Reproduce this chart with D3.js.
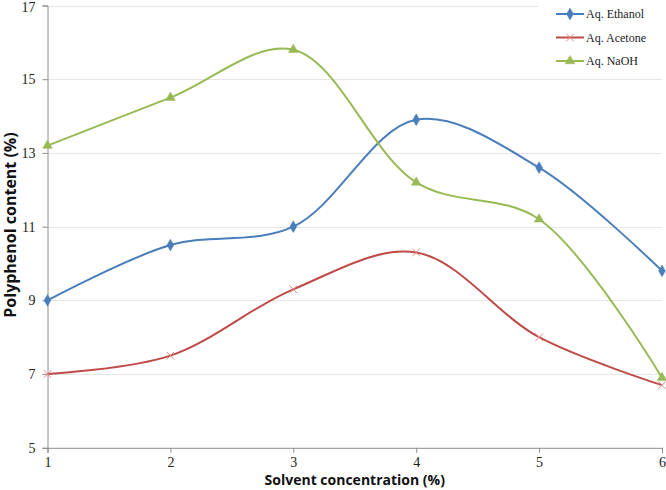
<!DOCTYPE html>
<html><head><meta charset="utf-8">
<script src="https://cdn.jsdelivr.net/npm/d3@7/dist/d3.min.js"></script>
<style>body{margin:0;background:#fff}svg{display:block}</style>
</head><body>
<svg id="c" width="666" height="490"></svg>
<script>
const xCategories = [1, 2, 3, 4, 5, 6];
const ethanol = [9.0, 10.5, 11.0, 13.9, 12.6, 9.8];
const acetone = [7.0, 7.5, 9.3, 10.3, 8.0, 6.7];
const naoh = [13.2, 14.5, 15.8, 12.2, 11.2, 6.9];
const yTicks = [5, 7, 9, 11, 13, 15, 17];
const seriesNames = ["Aq. Ethanol", "Aq. Acetone", "Aq. NaOH"];
const seriesColors = ["#4a7ebb", "#be4b48", "#98b954"];
const seriesMarkers = ["diamond", "cross", "triangle"];
const xTitle = "Solvent concentration (%)";
const yTitle = "Polyphenol content (%)";

const series = [ethanol, acetone, naoh].map((v, i) => ({
  name: seriesNames[i], values: v, color: seriesColors[i], marker: seriesMarkers[i]
}));

const svg = d3.select("#c");
const x = d3.scaleLinear().domain([1, 6]).range([47.5, 662]);
const y = d3.scaleLinear().domain([5, 17]).range([447.8, 5.5]);

// gridlines
svg.append("g").selectAll("line").data(yTicks.filter(t => t !== 5)).join("line")
  .attr("x1", x(1)).attr("x2", x(6))
  .attr("y1", d => Math.round(y(d)) + 0.5).attr("y2", d => Math.round(y(d)) + 0.5)
  .attr("stroke", "#e6e6e6").attr("stroke-width", 1);

// axes
const yAxis = d3.axisLeft(y).tickValues(yTicks).tickSize(5).tickPadding(7).tickFormat(d3.format("d"));
const xAxis = d3.axisBottom(x).tickValues(xCategories).tickSize(5).tickPadding(4).tickFormat(d3.format("d"));
const gy = svg.append("g").attr("transform", `translate(${x(1)},0)`).call(yAxis);
const gx = svg.append("g").attr("transform", `translate(0,${y(5)})`).call(xAxis);
[gx, gy].forEach(g => {
  g.select(".domain").attr("stroke", "#8c8c8c");
  g.selectAll(".tick line").attr("stroke", "#8c8c8c");
  g.selectAll(".tick text").attr("font-family", "Liberation Serif").attr("font-size", 14).attr("fill", "#222");
});
gy.selectAll(".tick text").filter(d => d === 17).attr("dy", "0.45em");

// lines
const line = d3.line().x((d, i) => x(xCategories[i])).y(d => y(d)).curve(d3.curveCatmullRom.alpha(0.5));
const symSize = {diamond: 40, triangle: 40};
function drawMarker(g, type, color) {
  if (type === "cross") {
    const s = 3.8;
    g.append("path").attr("d", `M${-s},${-s}L${s},${s}M${-s},${s}L${s},${-s}`)
      .attr("stroke", "#e08a88").attr("stroke-width", 1).attr("fill", "none");
  } else {
    const sym = type === "diamond" ? d3.symbolDiamond : d3.symbolTriangle;
    g.append("path").attr("d", d3.symbol().type(sym).size(symSize[type])())
      .attr("fill", color).attr("stroke", color).attr("stroke-width", 0.5);
  }
}
series.forEach(s => {
  svg.append("path").datum(s.values).attr("d", line)
    .attr("fill", "none").attr("stroke", s.color).attr("stroke-width", 2);
});
series.forEach(s => {
  s.values.forEach((v, i) => {
    const g = svg.append("g").attr("transform", `translate(${x(xCategories[i])},${y(v)})`);
    drawMarker(g, s.marker, s.color);
  });
});

// legend
const legend = svg.append("g");
legend.append("rect").attr("x", 538).attr("y", 0).attr("width", 128).attr("height", 74).attr("fill", "#fff");
const ly = [14, 37.5, 61];
series.forEach((s, i) => {
  const g = legend.append("g").attr("transform", `translate(0,${ly[i]})`);
  g.append("line").attr("x1", 556).attr("x2", 584).attr("y1", 0).attr("y2", 0)
    .attr("stroke", s.color).attr("stroke-width", 2);
  const m = g.append("g").attr("transform", "translate(570,0)");
  drawMarker(m, s.marker, s.color);
  g.append("text").attr("x", 586).attr("y", 0).attr("dy", "0.35em")
    .attr("font-family", "Liberation Serif").attr("font-size", 12).attr("fill", "#222").text(s.name);
});

// titles
svg.append("text").attr("x", (x(1) + x(6)) / 2).attr("y", 485).attr("text-anchor", "middle")
  .attr("font-family", "Open Sans").attr("font-weight", "bold").attr("font-size", 14).attr("fill", "#111").text(xTitle);
svg.append("text").attr("transform", `translate(16,${225}) rotate(-90)`).attr("text-anchor", "middle")
  .attr("font-family", "Open Sans").attr("font-weight", "bold").attr("font-size", 16).attr("fill", "#111").text(yTitle);
</script>
</body></html>
